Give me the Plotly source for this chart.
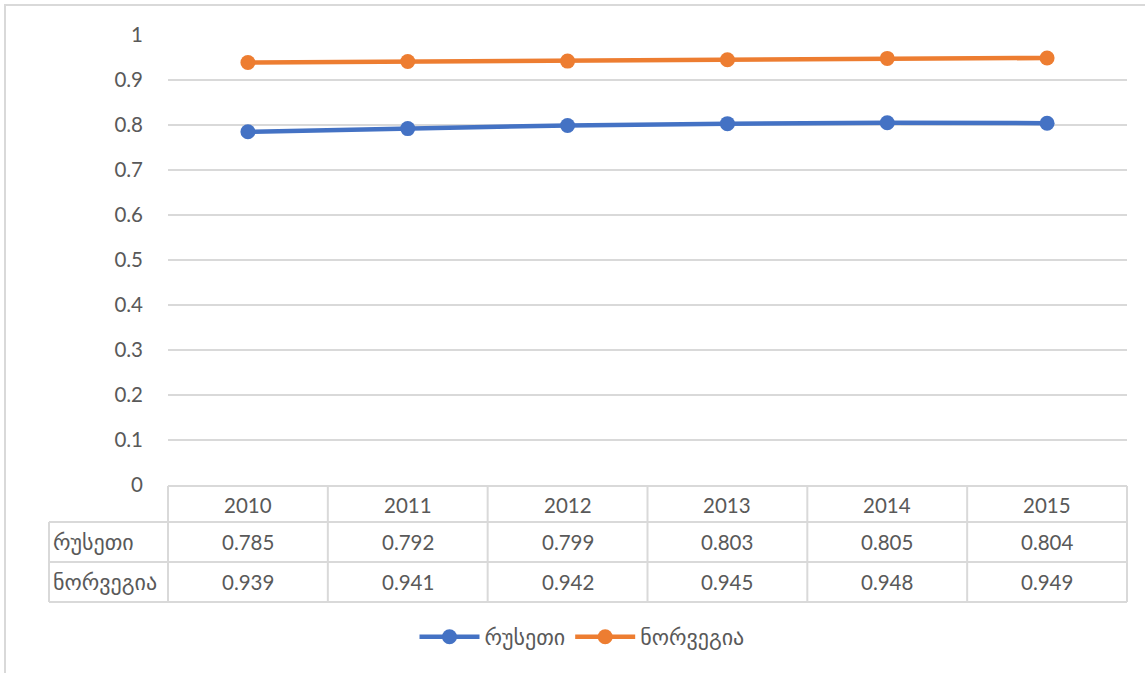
import plotly.graph_objects as go

years = ["2010", "2011", "2012", "2013", "2014", "2015"]
series_names = ["რუსეთი", "ნორვეგია"]
russia = [0.785, 0.792, 0.799, 0.803, 0.805, 0.804]
norway = [0.939, 0.941, 0.942, 0.945, 0.948, 0.949]
colors = ["#4472C4", "#ED7D31"]
y_ticks = [0, 0.1, 0.2, 0.3, 0.4, 0.5, 0.6, 0.7, 0.8, 0.9, 1]

W, H = 1145, 673
L, R, T, B = 168, 1127, 35, 485
TXT = "#595959"
GRID = "#D9D9D9"
FONT = "Lato, sans-serif"
GFONT = "'DejaVu Sans', sans-serif"
FS = 20.5
GFS = 22

def px_x(px):
    return (px - L) / (R - L)

def px_y(py):
    return (B - py) / (B - T)

fig = go.Figure()
for name, vals, c in zip(series_names, [russia, norway], colors):
    fig.add_trace(go.Scatter(
        x=list(range(len(years))), y=vals, name=name, mode="lines+markers",
        line=dict(color=c, width=4.5), marker=dict(color=c, size=15),
    ))

shapes = []
annotations = []
ncol = len(years)
colw = (R - L) / ncol
row_lines = [486, 522, 562, 602]
label_left = 49
shapes.append(dict(type="line", xref="paper", yref="paper", x0=px_x(L), x1=px_x(L + colw * ncol),
                   y0=px_y(row_lines[0]), y1=px_y(row_lines[0]), line=dict(color=GRID, width=2)))
for ry in row_lines[1:]:
    shapes.append(dict(type="line", xref="paper", yref="paper", x0=px_x(label_left), x1=px_x(L + colw * ncol),
                       y0=px_y(ry), y1=px_y(ry), line=dict(color=GRID, width=2)))
for i in range(ncol + 1):
    xx = L + colw * i
    shapes.append(dict(type="line", xref="paper", yref="paper", x0=px_x(xx), x1=px_x(xx),
                       y0=px_y(row_lines[0]), y1=px_y(row_lines[-1]), line=dict(color=GRID, width=2)))
shapes.append(dict(type="line", xref="paper", yref="paper", x0=px_x(label_left), x1=px_x(label_left),
                   y0=px_y(row_lines[1]), y1=px_y(row_lines[-1]), line=dict(color=GRID, width=2)))
shapes.append(dict(type="line", xref="paper", yref="paper", x0=px_x(4), x1=px_x(W),
                   y0=px_y(5), y1=px_y(5), line=dict(color=GRID, width=2)))
shapes.append(dict(type="line", xref="paper", yref="paper", x0=px_x(5), x1=px_x(5),
                   y0=px_y(5), y1=px_y(H), line=dict(color=GRID, width=2)))

for i, yr in enumerate(years):
    annotations.append(dict(x=i, xref="x", y=px_y((row_lines[0] + row_lines[1]) / 2 + 1), yref="paper",
                            yanchor="middle", text=yr, showarrow=False,
                            font=dict(size=FS, color=TXT, family=FONT)))
for r, (name, vals) in enumerate(zip(series_names, [russia, norway])):
    yc = px_y((row_lines[r + 1] + row_lines[r + 2]) / 2)
    annotations.append(dict(x=px_x(label_left + 2), xref="paper", y=yc, yref="paper", xanchor="left",
                            yanchor="middle", text=name, showarrow=False,
                            font=dict(size=GFS, color=TXT, family=GFONT)))
    for i, v in enumerate(vals):
        annotations.append(dict(x=i, xref="x", y=yc, yref="paper", yanchor="middle", text=f"{v:.3f}",
                                showarrow=False, font=dict(size=FS, color=TXT, family=FONT)))

fig.update_layout(
    width=W, height=H,
    margin=dict(l=L, r=W - R, t=T, b=H - B, pad=0),
    paper_bgcolor="white", plot_bgcolor="white",
    font=dict(family=FONT, size=FS, color=TXT),
    xaxis=dict(range=[-0.5, ncol - 0.5], showticklabels=False, showgrid=False, zeroline=False,
               tickvals=list(range(ncol)), showline=False),
    yaxis=dict(range=[0, 1], tickvals=y_ticks, ticktext=[f"{t:g}" for t in y_ticks],
               showgrid=True, gridcolor=GRID, gridwidth=1.5, zeroline=False, showline=False,
               ticks="", ticklabelstandoff=24, tickfont=dict(size=FS, color=TXT)),
    legend=dict(orientation="h", x=px_x(582), xanchor="center", y=px_y(637), yanchor="middle",
                font=dict(size=GFS, color=TXT, family=GFONT), itemwidth=60, traceorder="normal"),
    shapes=shapes, annotations=annotations,
)
fig.write_html("out.html", config={"displayModeBar": False},
               post_script="document.body.style.margin='0';document.body.style.overflow='hidden';")
